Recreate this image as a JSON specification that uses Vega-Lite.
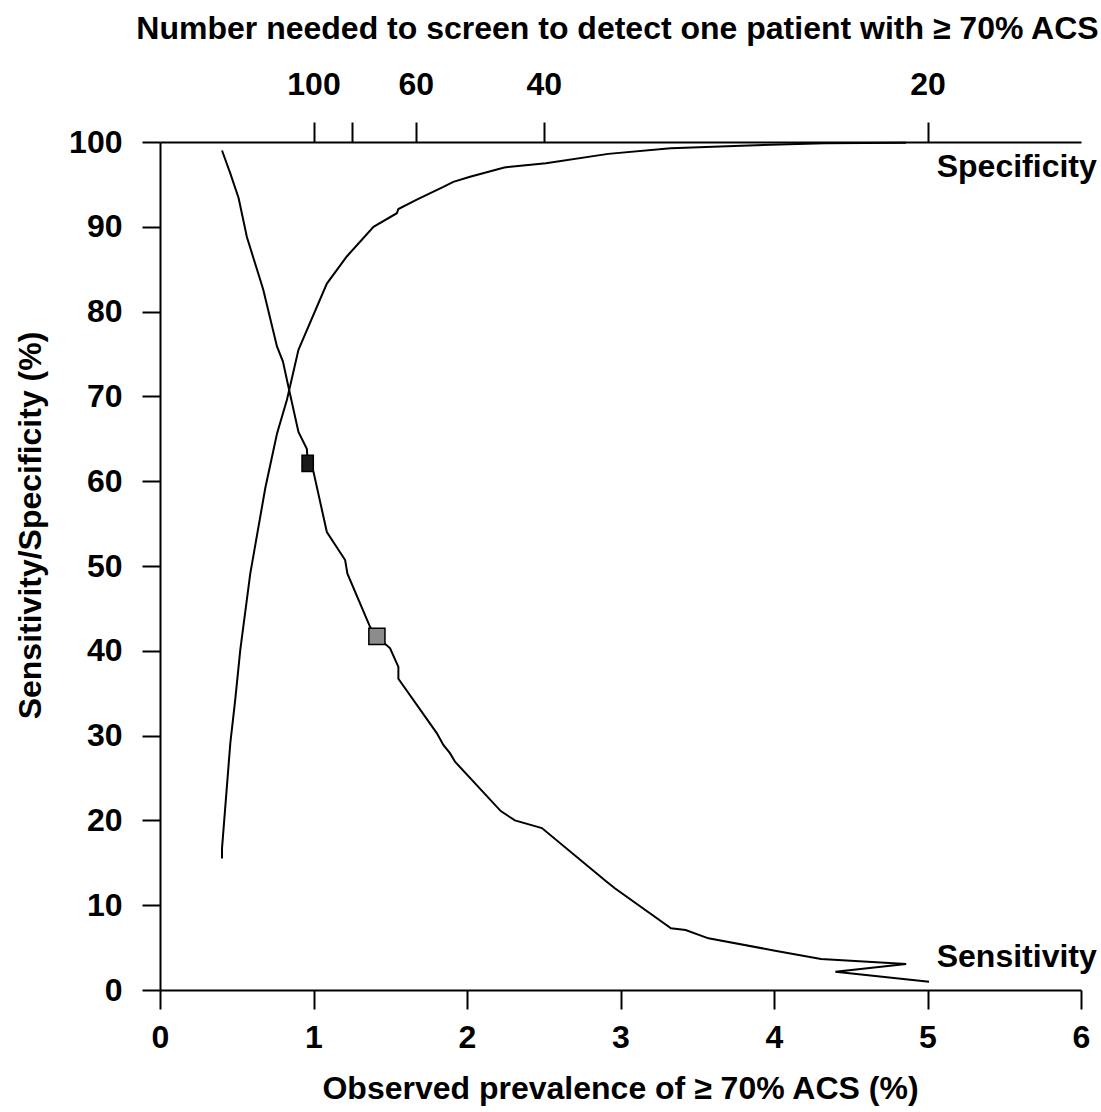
{
  "$schema": "https://vega.github.io/schema/vega-lite/v6.json",
  "width": 921,
  "height": 848,
  "autosize": {"type": "none"},
  "padding": {"left": 160, "top": 142, "right": 20, "bottom": 122},
  "background": "white",
  "config": {
    "view": {"stroke": null},
    "font": "Liberation Sans",
    "axis": {
      "grid": false,
      "domainColor": "black",
      "domainWidth": 2,
      "tickColor": "black",
      "tickWidth": 2,
      "labelFont": "Liberation Sans",
      "labelFontWeight": "bold",
      "labelFontSize": 32,
      "labelColor": "black",
      "titleFont": "Liberation Sans",
      "titleFontWeight": "bold",
      "titleFontSize": 32,
      "titleColor": "black",
      "labelOverlap": false,
      "labelFlush": false,
      "labelBound": false
    }
  },
  "datasets": {
    "curves": [
      {"curve": "Sensitivity", "step": 1, "prevalence": 0.404, "value": 99.0},
      {"curve": "Sensitivity", "step": 2, "prevalence": 0.458, "value": 96.3},
      {"curve": "Sensitivity", "step": 3, "prevalence": 0.512, "value": 93.4},
      {"curve": "Sensitivity", "step": 4, "prevalence": 0.566, "value": 88.8},
      {"curve": "Sensitivity", "step": 5, "prevalence": 0.664, "value": 83.1},
      {"curve": "Sensitivity", "step": 6, "prevalence": 0.674, "value": 82.5},
      {"curve": "Sensitivity", "step": 7, "prevalence": 0.762, "value": 75.9},
      {"curve": "Sensitivity", "step": 8, "prevalence": 0.801, "value": 74.1},
      {"curve": "Sensitivity", "step": 9, "prevalence": 0.837, "value": 71.1},
      {"curve": "Sensitivity", "step": 10, "prevalence": 0.902, "value": 65.8},
      {"curve": "Sensitivity", "step": 11, "prevalence": 0.957, "value": 63.8},
      {"curve": "Sensitivity", "step": 12, "prevalence": 0.962, "value": 62.1},
      {"curve": "Sensitivity", "step": 13, "prevalence": 1.0, "value": 61.1},
      {"curve": "Sensitivity", "step": 14, "prevalence": 1.087, "value": 54.0},
      {"curve": "Sensitivity", "step": 15, "prevalence": 1.206, "value": 50.7},
      {"curve": "Sensitivity", "step": 16, "prevalence": 1.221, "value": 49.1},
      {"curve": "Sensitivity", "step": 17, "prevalence": 1.369, "value": 42.8},
      {"curve": "Sensitivity", "step": 18, "prevalence": 1.413, "value": 41.7},
      {"curve": "Sensitivity", "step": 19, "prevalence": 1.499, "value": 40.3},
      {"curve": "Sensitivity", "step": 20, "prevalence": 1.553, "value": 38.1},
      {"curve": "Sensitivity", "step": 21, "prevalence": 1.553, "value": 36.7},
      {"curve": "Sensitivity", "step": 22, "prevalence": 1.803, "value": 30.3},
      {"curve": "Sensitivity", "step": 23, "prevalence": 1.846, "value": 28.9},
      {"curve": "Sensitivity", "step": 24, "prevalence": 1.89, "value": 27.9},
      {"curve": "Sensitivity", "step": 25, "prevalence": 1.923, "value": 26.9},
      {"curve": "Sensitivity", "step": 26, "prevalence": 2.22, "value": 21.1},
      {"curve": "Sensitivity", "step": 27, "prevalence": 2.312, "value": 20.0},
      {"curve": "Sensitivity", "step": 28, "prevalence": 2.488, "value": 19.1},
      {"curve": "Sensitivity", "step": 29, "prevalence": 2.908, "value": 12.8},
      {"curve": "Sensitivity", "step": 30, "prevalence": 2.963, "value": 12.0},
      {"curve": "Sensitivity", "step": 31, "prevalence": 3.329, "value": 7.27},
      {"curve": "Sensitivity", "step": 32, "prevalence": 3.424, "value": 7.08},
      {"curve": "Sensitivity", "step": 33, "prevalence": 3.573, "value": 6.09},
      {"curve": "Sensitivity", "step": 34, "prevalence": 4.007, "value": 4.64},
      {"curve": "Sensitivity", "step": 35, "prevalence": 4.306, "value": 3.66},
      {"curve": "Sensitivity", "step": 36, "prevalence": 4.861, "value": 3.07},
      {"curve": "Sensitivity", "step": 37, "prevalence": 4.4, "value": 2.16},
      {"curve": "Sensitivity", "step": 38, "prevalence": 5.01, "value": 0.98},
      {"curve": "Specificity", "step": 1, "prevalence": 0.404, "value": 15.5},
      {"curve": "Specificity", "step": 2, "prevalence": 0.404, "value": 16.7},
      {"curve": "Specificity", "step": 3, "prevalence": 0.458, "value": 29.1},
      {"curve": "Specificity", "step": 4, "prevalence": 0.49, "value": 34.2},
      {"curve": "Specificity", "step": 5, "prevalence": 0.523, "value": 40.1},
      {"curve": "Specificity", "step": 6, "prevalence": 0.588, "value": 49.1},
      {"curve": "Specificity", "step": 7, "prevalence": 0.686, "value": 59.2},
      {"curve": "Specificity", "step": 8, "prevalence": 0.762, "value": 65.6},
      {"curve": "Specificity", "step": 9, "prevalence": 0.827, "value": 69.6},
      {"curve": "Specificity", "step": 10, "prevalence": 0.902, "value": 75.5},
      {"curve": "Specificity", "step": 11, "prevalence": 1.087, "value": 83.3},
      {"curve": "Specificity", "step": 12, "prevalence": 1.217, "value": 86.5},
      {"curve": "Specificity", "step": 13, "prevalence": 1.391, "value": 90.0},
      {"curve": "Specificity", "step": 14, "prevalence": 1.543, "value": 91.6},
      {"curve": "Specificity", "step": 15, "prevalence": 1.553, "value": 92.1},
      {"curve": "Specificity", "step": 16, "prevalence": 1.673, "value": 93.2},
      {"curve": "Specificity", "step": 17, "prevalence": 1.846, "value": 94.7},
      {"curve": "Specificity", "step": 18, "prevalence": 1.911, "value": 95.3},
      {"curve": "Specificity", "step": 19, "prevalence": 2.02, "value": 95.9},
      {"curve": "Specificity", "step": 20, "prevalence": 2.243, "value": 97.0},
      {"curve": "Specificity", "step": 21, "prevalence": 2.514, "value": 97.5},
      {"curve": "Specificity", "step": 22, "prevalence": 2.92, "value": 98.6},
      {"curve": "Specificity", "step": 23, "prevalence": 3.326, "value": 99.25},
      {"curve": "Specificity", "step": 24, "prevalence": 3.787, "value": 99.56},
      {"curve": "Specificity", "step": 25, "prevalence": 4.328, "value": 99.85},
      {"curve": "Specificity", "step": 26, "prevalence": 4.86, "value": 99.9}
    ],
    "markers": [
      {"marker": "dark", "prevalence": 0.962, "value": 62.1},
      {"marker": "grey", "prevalence": 1.413, "value": 41.7}
    ],
    "labels": [
      {"label": "Specificity", "prevalence": 5.06, "value": 95.9},
      {"label": "Sensitivity", "prevalence": 5.06, "value": 2.7}
    ]
  },
  "layer": [
    {
      "data": {"name": "curves"},
      "mark": {"type": "line", "color": "black", "strokeWidth": 2},
      "encoding": {
        "x": {
          "field": "prevalence", "type": "quantitative",
          "scale": {"domain": [0, 6], "nice": false, "zero": false},
          "axis": {
            "orient": "bottom",
            "values": [0, 1, 2, 3, 4, 5, 6],
            "tickSize": 19,
            "labelPadding": 13,
            "title": "Observed prevalence of ≥ 70% ACS (%)",
            "titleX": 460,
            "titleY": 98,
            "titleBaseline": "middle",
            "titleAnchor": "middle"
          }
        },
        "y": {
          "field": "value", "type": "quantitative",
          "scale": {"domain": [0, 100], "nice": false, "zero": false},
          "axis": {
            "values": [0, 10, 20, 30, 40, 50, 60, 70, 80, 90, 100],
            "tickSize": 18,
            "labelPadding": 20,
            "title": "Sensitivity/Specificity (%)",
            "titleX": -130,
            "titleY": 383,
            "titleBaseline": "middle",
            "titleAnchor": "middle"
          }
        },
        "detail": {"field": "curve"},
        "order": {"field": "step", "type": "quantitative"}
      }
    },
    {
      "data": {"name": "markers"},
      "mark": {"type": "point", "filled": true, "stroke": "black", "strokeWidth": 1.5, "opacity": 1},
      "encoding": {
        "x": {
          "field": "prevalence", "type": "quantitative",
          "axis": {
            "orient": "top",
            "values": [1, 1.25, 1.6667, 2.5, 5],
            "labelExpr": "datum.value > 1.2 && datum.value < 1.3 ? '' : format(100 / datum.value, '.0f')",
            "tickSize": 20,
            "labelPadding": 21,
            "title": "Number needed to screen to detect one patient with ≥ 70% ACS",
            "titleX": 457,
            "titleY": -114,
            "titleBaseline": "middle",
            "titleAnchor": "middle"
          }
        },
        "y": {"field": "value", "type": "quantitative", "title": "Sensitivity/Specificity (%)"},
        "fill": {
          "field": "marker", "type": "nominal",
          "scale": {"domain": ["dark", "grey"], "range": ["#1a1a1a", "#8c8c8c"]},
          "legend": null
        },
        "shape": {
          "field": "marker", "type": "nominal",
          "scale": {"domain": ["dark", "grey"], "range": ["M-0.7,-1H0.7V1H-0.7Z", "square"]},
          "legend": null
        },
        "size": {"value": 260}
      }
    },
    {
      "data": {"name": "labels"},
      "mark": {"type": "text", "align": "left", "baseline": "alphabetic", "font": "Liberation Sans", "fontWeight": "bold", "fontSize": 32, "color": "black"},
      "encoding": {
        "x": {"field": "prevalence", "type": "quantitative", "axis": null},
        "y": {"field": "value", "type": "quantitative", "title": "Sensitivity/Specificity (%)"},
        "text": {"field": "label"}
      }
    }
  ],
  "resolve": {"axis": {"x": "independent"}}
}
